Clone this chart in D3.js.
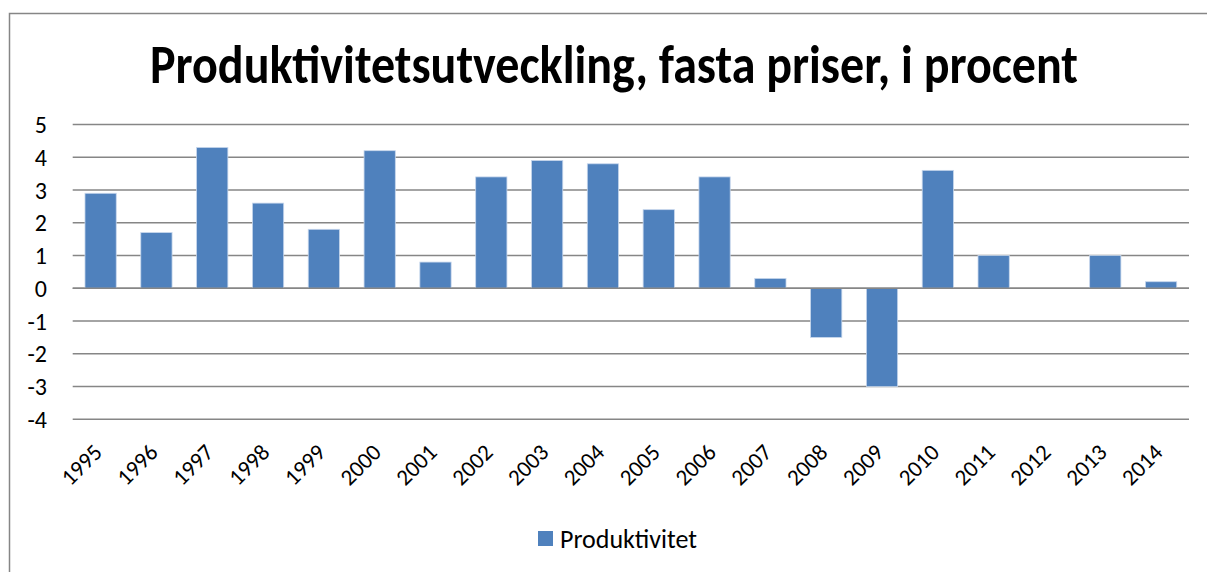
<!DOCTYPE html>
<html>
<head>
<meta charset="utf-8">
<script src="https://cdn.jsdelivr.net/npm/d3@7"></script>
<style>
  body { margin: 0; background: #fff; }
  text { font-family: Carlito, Calibri, "Open Sans", sans-serif; }
</style>
</head>
<body>
<script>
const years = ['1995','1996','1997','1998','1999','2000','2001','2002','2003','2004',
               '2005','2006','2007','2008','2009','2010','2011','2012','2013','2014'];
const produktivitet = [2.9, 1.7, 4.3, 2.6, 1.8, 4.2, 0.8, 3.4, 3.9, 3.8,
                       2.4, 3.4, 0.3, -1.5, -3.0, 3.6, 1.0, 0, 1.0, 0.2];
const yTicks = [5, 4, 3, 2, 1, 0, -1, -2, -3, -4];
const title = 'Produktivitetsutveckling, fasta priser, i procent';
const seriesName = 'Produktivitet';

const width = 1207, height = 572;
const svg = d3.select('body').append('svg')
  .attr('width', width)
  .attr('height', height);

// chart frame (runs off the right and bottom)
svg.append('rect')
  .attr('x', 9.5).attr('y', 13.5)
  .attr('width', 1220).attr('height', 600)
  .attr('fill', '#fff')
  .attr('stroke', '#868686')
  .attr('stroke-width', 1.5);

const x = d3.scaleBand().domain(years).range([72.7, 1189]).paddingInner(0.44).paddingOuter(0.22);
const y = d3.scaleLinear().domain([-4, 5]).range([419.3, 124.5]);

// gridlines
svg.append('g')
  .selectAll('line')
  .data(yTicks)
  .join('line')
  .attr('x1', 72.7).attr('x2', 1189)
  .attr('y1', d => y(d)).attr('y2', d => y(d))
  .attr('stroke', '#868686')
  .attr('stroke-width', 1.5);

// y labels
svg.append('g')
  .selectAll('text')
  .data(yTicks)
  .join('text')
  .attr('x', 47)
  .attr('y', d => y(d))
  .attr('dy', '0.36em')
  .attr('text-anchor', 'end')
  .attr('font-size', 24)
  .attr('fill', '#000')
  .text(d => d);

// bars
svg.append('g')
  .selectAll('rect')
  .data(years)
  .join('rect')
  .attr('x', d => x(d))
  .attr('width', x.bandwidth())
  .attr('y', (d, i) => y(Math.max(0, produktivitet[i])))
  .attr('height', (d, i) => Math.abs(y(produktivitet[i]) - y(0)))
  .attr('fill', '#4F81BD')
  .attr('stroke', '#c6d6ec')
  .attr('stroke-width', 0.8);

// zero line on top
svg.append('line')
  .attr('x1', 72.7).attr('x2', 1189)
  .attr('y1', y(0)).attr('y2', y(0))
  .attr('stroke', '#868686')
  .attr('stroke-width', 1.5);

// x labels, rotated
svg.append('g')
  .selectAll('text')
  .data(years)
  .join('text')
  .attr('transform', d => `translate(${x(d) + x.bandwidth() / 2 - 3},${448}) rotate(-45)`)
  .attr('text-anchor', 'end')
  .attr('dy', '0.36em')
  .attr('font-size', 23)
  .attr('fill', '#000')
  .text(d => d);

// title
svg.append('text')
  .attr('x', 614)
  .attr('y', 83)
  .attr('text-anchor', 'middle')
  .attr('font-size', 54)
  .attr('font-weight', 'bold')
  .attr('textLength', 928)
  .attr('lengthAdjust', 'spacingAndGlyphs')
  .attr('fill', '#000')
  .text(title);

// legend
const legend = svg.append('g').attr('transform', 'translate(538,531)');
legend.append('rect')
  .attr('width', 15).attr('height', 15)
  .attr('fill', '#4F81BD');
legend.append('text')
  .attr('x', 22).attr('y', 8)
  .attr('dy', '0.36em')
  .attr('font-size', 26)
  .attr('fill', '#000')
  .text(seriesName);
</script>
</body>
</html>
